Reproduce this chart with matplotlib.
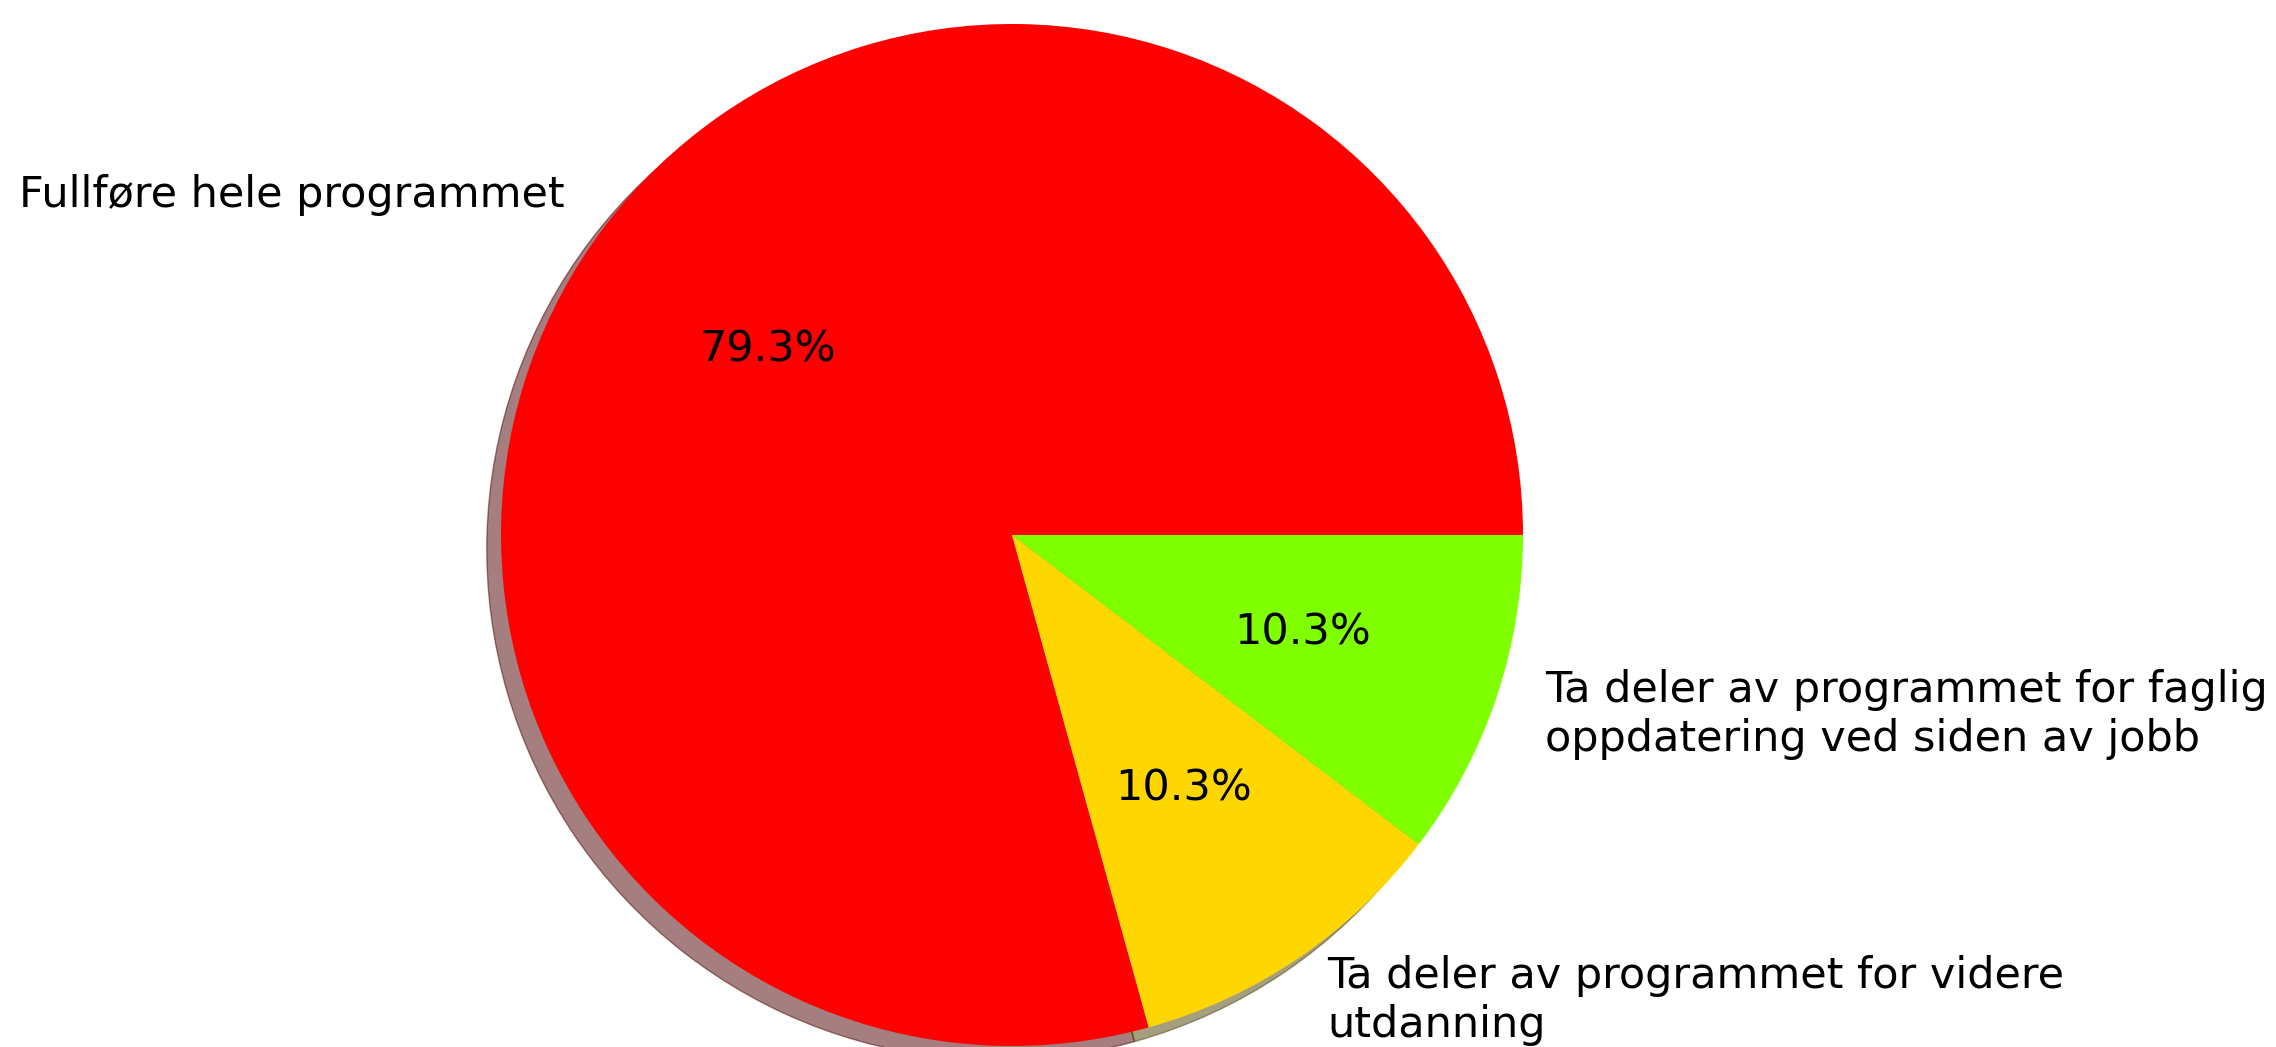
import matplotlib.pyplot as plt

# Answers to "how will you use the programme"
labels = ["Fullføre hele programmet",
          "Ta deler av programmet for videre\nutdanning",
          "Ta deler av programmet for faglig\noppdatering ved siden av jobb"]
counts = [23, 3, 3]
colors = ["red", "gold", "chartreuse"]

W, H = 2276, 1047
cx, cy = 1012, 535     # pie centre in pixels (from top-left)
r = 511                # pie radius in pixels

fig = plt.figure(figsize=(W / 100, H / 100), dpi=100)
ax = fig.add_axes([0, 0, 1, 1])

ax.pie(counts, labels=labels, colors=colors, autopct='%1.1f%%',
       shadow=True, startangle=0, textprops={'fontsize': 31})

# place the unit-radius pie so it is cut off at the bottom like the original
ax.set_aspect('auto')
ax.set_xlim(-cx / r, (W - cx) / r)
ax.set_ylim(-(H - cy) / r, cy / r)
ax.axis('off')

fig.savefig("out.png", dpi=100)
